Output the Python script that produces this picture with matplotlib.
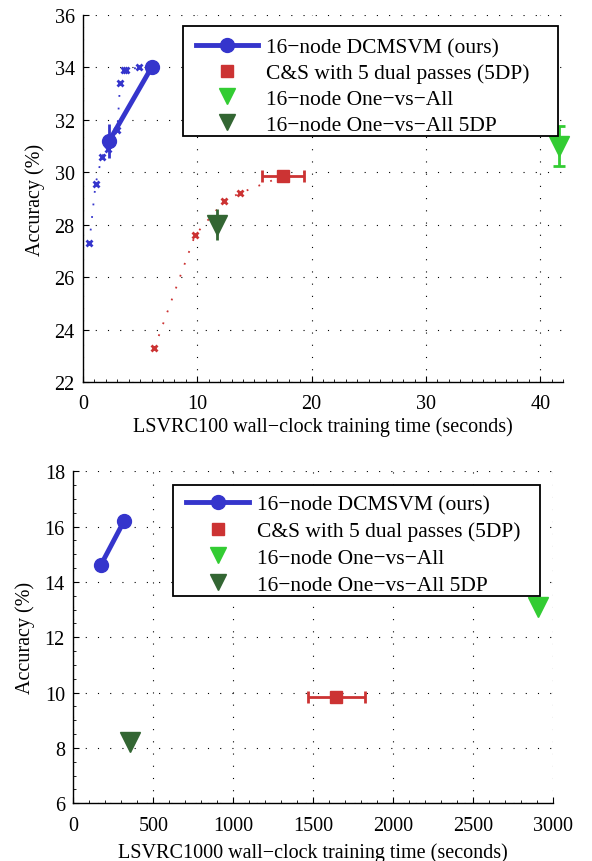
import matplotlib
matplotlib.use("Agg")
import matplotlib.pyplot as plt
from matplotlib.ticker import MultipleLocator
from matplotlib.lines import Line2D
from matplotlib.patches import Rectangle

plt.rcParams['font.family'] = ['Liberation Serif', 'DejaVu Serif']
plt.rcParams['font.size'] = 14.5

BLUE = '#3535CC'
RED = '#CC3333'
LGREEN = '#33CC33'
DGREEN = '#336633'

labels = ['16\u2212node DCMSVM (ours)', 'C&S with 5 dual passes (5DP)',
          '16\u2212node One\u2212vs\u2212All', '16\u2212node One\u2212vs\u2212All 5DP']

# ---- LSVRC100 panel data ----
t100_dcm_x = [2.3, 6.0]
t100_dcm_y = [31.2, 34.0]
t100_dcm_yerr = [0.65, 0.2]
t100_dcm_path_x = [0.55, 1.1, 1.65, 2.2, 3.0, 3.25, 3.55, 3.8, 4.9, 6.0]
t100_dcm_path_y = [27.3, 29.55, 30.6, 30.9, 31.6, 33.4, 33.9, 33.9, 34.0, 34.0]
t100_cs_path_x = [6.25, 9.8, 12.35, 13.7, 17.5]
t100_cs_path_y = [23.3, 27.6, 28.9, 29.2, 29.85]
t100_cs_x = [17.5]
t100_cs_y = [29.85]
t100_cs_xerr = [1.85]
t100_ova_x = [41.6]
t100_ova_y = [31.0]
t100_ova_yerr = [0.75]
t100_ova5_x = [11.7]
t100_ova5_y = [28.0]
t100_ova5_yerr = [0.6]

# ---- LSVRC1000 panel data ----
t1000_dcm_x = [173, 317]
t1000_dcm_y = [14.62, 16.2]
t1000_cs_x = [1644]
t1000_cs_y = [9.85]
t1000_cs_xerr = [177]
t1000_ova_x = [2906]
t1000_ova_y = [13.1]
t1000_ova5_x = [354]
t1000_ova5_y = [8.2]
t1000_ova5_yerr = [0.2]

fig = plt.figure(figsize=(5.92, 8.62), dpi=100)
ax1 = fig.add_axes([0.1402, 0.5557, 0.811, 0.4258])
ax2 = fig.add_axes([0.1238, 0.0669, 0.8108, 0.3852])


def style(ax, xmin, xmax, xmaj, xmin_step, ymin, ymax, ystep, ymin_step, xlabel, xlpad):
    ax.set_xlim(xmin, xmax)
    ax.set_ylim(ymin, ymax)
    ax.xaxis.set_major_locator(MultipleLocator(xmaj))
    ax.xaxis.set_minor_locator(MultipleLocator(xmin_step))
    ax.yaxis.set_major_locator(MultipleLocator(ystep))
    if ymin_step:
        ax.yaxis.set_minor_locator(MultipleLocator(ymin_step))
    ax.spines['top'].set_visible(False)
    ax.spines['right'].set_visible(False)
    ax.spines['left'].set_linewidth(1.0)
    ax.spines['bottom'].set_linewidth(1.0)
    ax.tick_params(direction='in', which='both', top=False, right=False)
    ax.tick_params(which='major', length=4)
    ax.tick_params(which='minor', length=2)
    ax.tick_params(axis='x', which='major', pad=9)
    ax.tick_params(axis='y', which='major', pad=6)
    ax.grid(True, which='major', linestyle=(0, (1, 10)), color='black', linewidth=0.8)
    ax.set_axisbelow(True)
    ax.set_xlabel(xlabel, labelpad=xlpad)
    ax.set_ylabel('Accuracy (%)', labelpad=7)


style(ax1, 0, 42, 10, 1, 22, 36, 2, None,
      'LSVRC100 wall\u2212clock training time (seconds)', 2)
style(ax2, 0, 3000, 500, 100, 6, 18, 2, 0.5,
      'LSVRC1000 wall\u2212clock training time (seconds)', 5)

# Top panel
ax1.plot(t100_dcm_path_x, t100_dcm_path_y, linestyle=(0, (1, 6)), color=BLUE, linewidth=1.3, zorder=3)
ax1.plot(t100_dcm_path_x[:-1], t100_dcm_path_y[:-1], linestyle='none', color=BLUE, marker='x',
         markersize=5, markeredgewidth=2, zorder=3)
ax1.plot(t100_cs_path_x[:-1], t100_cs_path_y[:-1], linestyle='none', color=RED, marker='x',
         markersize=5, markeredgewidth=2, zorder=3)
ax1.plot(t100_cs_path_x, t100_cs_path_y, linestyle=(0, (1, 6)), color=RED, linewidth=1.3, zorder=3)
ax1.errorbar(t100_dcm_x, t100_dcm_y, yerr=t100_dcm_yerr, color=BLUE, marker='o',
             markersize=10, linewidth=3.5, elinewidth=2, capsize=0, zorder=4)
ax1.errorbar(t100_cs_x, t100_cs_y, xerr=t100_cs_xerr, color=RED, marker='s',
             markersize=9, linestyle='none', elinewidth=2, capsize=4, capthick=2, zorder=4)
ax1.errorbar(t100_ova_x, t100_ova_y, yerr=t100_ova_yerr, color=LGREEN, marker='v',
             markersize=14, linestyle='none', elinewidth=2, capsize=4, capthick=2, zorder=4,
             clip_on=False)
ax1.errorbar(t100_ova5_x, t100_ova5_y, yerr=t100_ova5_yerr, color=DGREEN, marker='v',
             markersize=14, linestyle='none', elinewidth=2, capsize=0, zorder=4)

# Bottom panel
ax2.plot(t1000_dcm_x, t1000_dcm_y, color=BLUE, marker='o', markersize=10,
         linewidth=3.5, zorder=4)
ax2.errorbar(t1000_cs_x, t1000_cs_y, xerr=t1000_cs_xerr, color=RED, marker='s',
             markersize=9, linestyle='none', elinewidth=2, capsize=4, capthick=2, zorder=4)
ax2.plot(t1000_ova_x, t1000_ova_y, color=LGREEN, marker='v', markersize=14,
         linestyle='none', zorder=4)
ax2.errorbar(t1000_ova5_x, t1000_ova5_y, yerr=t1000_ova5_yerr, color=DGREEN, marker='v',
             markersize=14, linestyle='none', elinewidth=2, capsize=0, zorder=4)

leg_handles = [
    Line2D([], [], color=BLUE, marker='o', markersize=10, linewidth=3.5),
    Line2D([], [], color=RED, marker='s', markersize=8, linestyle='none'),
    Line2D([], [], color=LGREEN, marker='v', markersize=11, linestyle='none'),
    Line2D([], [], color=DGREEN, marker='v', markersize=11, linestyle='none'),
]

# (frame rectangle in axes coords, legend anchor in axes coords, row spacing)
legend_boxes = [
    (ax1, (0.208, 0.670, 0.782, 0.300), (0.222, 0.957), 0.27),
    (ax2, (0.208, 0.624, 0.764, 0.335), (0.222, 0.951), 0.32),
]
for ax, (rx, ry, rw, rh), anchor, lsp in legend_boxes:
    ax.add_patch(Rectangle((rx, ry), rw, rh, transform=ax.transAxes, facecolor='white',
                           edgecolor='black', linewidth=1.3, zorder=9, clip_on=False))
    leg = ax.legend(leg_handles, labels, loc='upper left', bbox_to_anchor=anchor,
                    frameon=False, handlelength=2.9, handletextpad=0.37, borderpad=0.3,
                    labelspacing=lsp, borderaxespad=0, fontsize=15.5)
    leg.set_zorder(10)

fig.savefig('out.png', dpi=100)
